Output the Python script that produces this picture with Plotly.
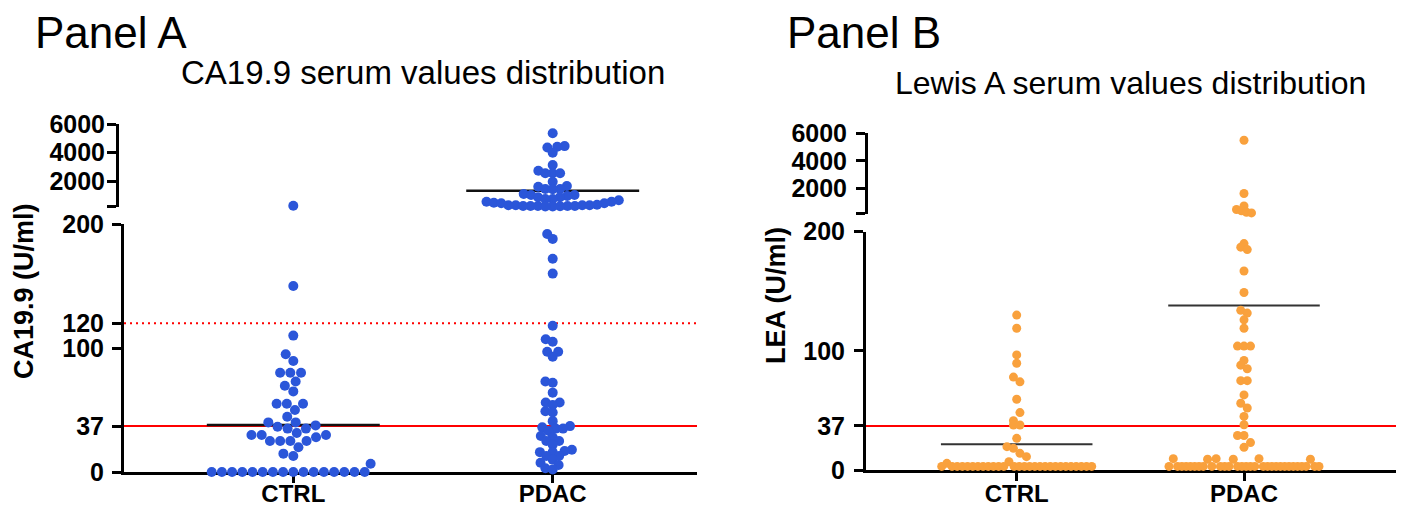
import numpy as np
import plotly.graph_objects as go

# ---------------- data ----------------
CATEGORIES = ["CTRL", "PDAC"]

CA199_CTRL = [270, 150, 110, 95, 89.5, 80, 80, 80, 73, 69.6, 65, 55, 55, 55, 50, 44.6,
              40, 40, 37.6, 36.5, 35, 35, 31.4, 29.8, 29.8, 29.8, 28, 25, 25, 25, 25,
              20, 14.8, 12.9, 6.7,
              0, 0, 0, 0, 0, 0, 0, 0, 0, 0, 0, 0, 0, 0, 0, 0]
CA199_PDAC = [5350, 4450, 4400, 4350, 3990, 3120, 2720, 2540, 2540, 2540, 1950, 1650,
              1600, 1440, 1440, 1420, 1090, 1020, 1020, 950, 860, 860, 740, 740, 650,
              550, 550, 480, 440, 440, 340, 300, 300, 300, 300, 250, 250, 250, 250, 250,
              230, 210, 210,
              192, 188, 172, 160, 118, 107, 105, 97, 97, 93, 73, 72, 64, 56, 56, 54, 49,
              48, 41, 37, 36, 35, 35, 33, 29, 28, 25, 25, 22, 18, 17, 16, 16, 13, 13, 10,
              7.5, 5.6, 3, 2]
CA199_SUMMARY = [38, 1320]          # horizontal summary lines (CTRL, PDAC)

LEA_CTRL = [130, 119, 96.6, 89.6, 78, 74, 59.4, 41.4, 48.2, 37.8, 37.8, 26.6, 19.6, 18.2,
            14, 11.2,
            3, 5.6, 3, 3, 3, 3, 3, 3, 3, 3, 3, 3, 3, 7, 3, 3, 3, 3, 3, 3, 3, 3, 3, 3, 3, 3,
            3, 3, 3, 3]
LEA_PDAC = [5500, 1650, 750, 500, 400, 300, 250,
            190, 187, 185, 167, 149, 134, 131.7, 126, 119, 104, 104, 104, 92, 88, 85, 75,
            75, 63, 56, 52, 45, 38, 29, 29, 23, 19,
            3, 9.5, 3, 3, 3, 3, 3, 3, 3, 9, 3, 9.5, 3, 3, 3, 9, 3, 3, 3, 3, 3, 9.5, 3, 3,
            3, 3, 3, 3, 3, 3, 3, 3, 3, 9, 3, 3]
LEA_SUMMARY = [21.6, 138]

CUTOFF = 37
CUTOFF_HIGH = 120
LOW_TICKS_A = [0, 37, 100, 120, 200]
LOW_TICKS_B = [0, 37, 100, 200]
UP_TICKS = [200, 2000, 4000, 6000]
UP_TICKTEXT = ["", "2000", "4000", "6000"]
BREAK = 200
UP_MAX = 6000

# ---------------- layout geometry (pixels in the 1407x515 window) ----------------
OFF = 8                      # page body margin
W, H = 1391, 499             # figure size
PANELS = {
    "A": dict(x0=124, x1=697, cat_px=(293.3, 552.7),
              low=(472.0, 224.0), up=(206.7, 124.0), up_pos=117, lab_standoff=-10),
    "B": dict(x0=866, x1=1396, cat_px=(1016.7, 1244.0),
              low=(470.0, 231.7), up=(213.6, 133.3), up_pos=866, lab_standoff=-8),
}
BLUE = "#2B56D9"
ORANGE = "#F9A13D"
FONT = "Liberation Sans, Arial, sans-serif"


def px_x(px):
    return (px - OFF) / W


def px_y(py):
    return 1 - (py - OFF) / H


def ppu(cfg):
    return cfg["cat_px"][1] - cfg["cat_px"][0]


def xrange_of(cfg):
    p = ppu(cfg)
    return [1 - (cfg["cat_px"][0] - cfg["x0"]) / p, 2 + (cfg["x1"] - cfg["cat_px"][1]) / p]


def ypix(v, cfg):
    if v <= BREAK:
        b, t = cfg["low"]
        lo, hi = 0, BREAK
    else:
        b, t = cfg["up"]
        lo, hi = BREAK, UP_MAX
    return b - (v - lo) / (hi - lo) * (b - t)


def swarm(vals, cfg, d):
    ys = np.array([ypix(v, cfg) for v in vals])
    order = np.argsort(-ys, kind="stable")
    xs = np.zeros(len(vals))
    placed = []
    for i in order:
        cands = [0.0]
        for (xj, yj) in placed:
            dy = ys[i] - yj
            if abs(dy) < d:
                dx = np.sqrt(d * d - dy * dy)
                cands += [xj + dx, xj - dx]
        ok = [c for c in cands
              if all((c - xj) ** 2 + (ys[i] - yj) ** 2 >= d * d - 1e-6 for (xj, yj) in placed)]
        best = min(ok, key=lambda c: (round(abs(c), 6), c))
        xs[i] = best
        placed.append((best, ys[i]))
    return xs


def binned(vals, cfg, binpx, spacing, maxw, up_binpx, up_spacing):
    xs = np.zeros(len(vals))
    groups = {}
    for i, v in enumerate(vals):
        if v <= BREAK:
            key = ("l", int((cfg["low"][0] - ypix(v, cfg)) // binpx))
        else:
            key = ("u", int((cfg["up"][0] - ypix(v, cfg)) // up_binpx))
        groups.setdefault(key, []).append(i)
    for key, idx in groups.items():
        n = len(idx)
        if n == 1:
            continue
        sp = spacing if key[0] == "l" else up_spacing
        s = min(sp, maxw / (n - 1))
        for k, i in enumerate(idx):
            xs[i] = (k - (n - 1) / 2) * s
    return xs


fig = go.Figure()

axes = {"A": ("x", "y", "y2"), "B": ("x2", "y3", "y4")}
series = {
    "A": [(CA199_CTRL, BLUE, 10.2), (CA199_PDAC, BLUE, 7.4)],
    "B": [(LEA_CTRL, ORANGE, None), (LEA_PDAC, ORANGE, None)],
}
summary = {"A": CA199_SUMMARY, "B": LEA_SUMMARY}
msize = {"A": 10, "B": 9}
mean_style = {"A": dict(color="#111111", width=2.5), "B": dict(color="#333333", width=2)}

for pn, cfg in PANELS.items():
    xa, yl, yu = axes[pn]
    for ci, m in enumerate(summary[pn]):
        cx = ci + 1
        fig.add_trace(go.Scatter(x=[cx - 1 / 3, cx + 1 / 3], y=[m, m], mode="lines",
                                 line=mean_style[pn], xaxis=xa,
                                 yaxis=yl if m <= BREAK else yu,
                                 showlegend=False, hoverinfo="skip"))
    for ci, (vals, col, dist) in enumerate(series[pn]):
        cx = ci + 1
        if dist is not None:
            offs = swarm(vals, cfg, dist)
        else:
            offs = binned(vals, cfg, 11.9, 6.5, 150, 5.0, 5.0)
        xs = cx + offs / ppu(cfg)
        v = np.array(vals, dtype=float)
        lowm = v <= BREAK
        for mask, ya in ((lowm, yl), (~lowm, yu)):
            if mask.any():
                fig.add_trace(go.Scatter(x=xs[mask], y=v[mask], mode="markers",
                                         marker=dict(size=msize[pn], color=col, line=dict(width=0)),
                                         xaxis=xa, yaxis=ya, cliponaxis=False,
                                         showlegend=False))

tickfont = dict(family=FONT, size=25, color="black", weight="bold")
catfont = dict(family=FONT, size=24, color="black", weight="bold")


def yax(dom_px, rng, tickvals, ticktext, anchor, position=None, standoff=0, ticklen=9):
    d = dict(domain=[px_y(dom_px[0]), px_y(dom_px[1])], range=rng,
             tickvals=tickvals, ticktext=ticktext, showline=True, linewidth=3,
             linecolor="black", ticks="outside", ticklen=ticklen, tickwidth=3,
             tickcolor="black", showgrid=False, zeroline=False, tickfont=tickfont,
             automargin=False, ticklabelstandoff=standoff, fixedrange=True)
    if anchor == "free":
        d["anchor"] = "free"
        d["position"] = px_x(position)
    else:
        d["anchor"] = anchor
    return d


def xax(cfg, anchor):
    return dict(domain=[px_x(cfg["x0"]), px_x(cfg["x1"])], range=xrange_of(cfg),
                tickvals=[1, 2], ticktext=CATEGORIES, showline=True, linewidth=3,
                linecolor="black", ticks="outside", ticklen=8, tickwidth=3,
                tickcolor="black", showgrid=False, zeroline=False, tickfont=catfont,
                anchor=anchor, automargin=False, layer="below traces", fixedrange=True,
                ticklabelstandoff=cfg["lab_standoff"])


A, B = PANELS["A"], PANELS["B"]
fig.update_layout(
    width=W, height=H, margin=dict(l=0, r=0, t=0, b=0),
    paper_bgcolor="white", plot_bgcolor="rgba(0,0,0,0)", showlegend=False,
    xaxis=xax(A, "y"),
    xaxis2=xax(B, "y3"),
    yaxis=yax(A["low"], [0, BREAK], LOW_TICKS_A, [str(t) for t in LOW_TICKS_A], "x", standoff=3),
    yaxis2=yax(A["up"], [BREAK, UP_MAX], UP_TICKS, UP_TICKTEXT, "free", A["up_pos"], standoff=-3),
    yaxis3=yax(B["low"], [0, BREAK], LOW_TICKS_B, [str(t) for t in LOW_TICKS_B], "x2", standoff=4),
    yaxis4=yax(B["up"], [BREAK, UP_MAX], UP_TICKS, UP_TICKTEXT, "free", B["up_pos"], standoff=4),
)

# reference lines
fig.add_shape(type="line", xref="x domain", yref="y", x0=0, x1=1, y0=CUTOFF, y1=CUTOFF,
              line=dict(color="#FF0000", width=2), layer="below")
fig.add_shape(type="line", xref="x domain", yref="y", x0=0, x1=1, y0=CUTOFF_HIGH, y1=CUTOFF_HIGH,
              line=dict(color="#FF0000", width=2, dash="2px,4px"), layer="below")
fig.add_shape(type="line", xref="x2 domain", yref="y3", x0=0, x1=1, y0=CUTOFF, y1=CUTOFF,
              line=dict(color="#FF0000", width=2), layer="below")


def ann(text, x, y, size, bold=False, xanchor="left", angle=0):
    fig.add_annotation(text=text, x=px_x(x), y=px_y(y), xref="paper", yref="paper",
                       xanchor=xanchor, yanchor="middle", showarrow=False, textangle=angle,
                       font=dict(family=FONT, size=size, color="black",
                                 weight="bold" if bold else "normal"))


ann("Panel A", 33, 32, 44)
ann("Panel B", 785, 32, 44)
ann("CA19.9 serum values distribution", 423, 72, 33, xanchor="center")
ann("Lewis A serum values distribution", 1130, 83, 32, xanchor="center")
ann("CA19.9 (U/ml)", 24, 291, 27, bold=True, xanchor="center", angle=-90)
ann("LEA (U/ml)", 776, 296, 27, bold=True, xanchor="center", angle=-90)

fig.write_html("out.html")
